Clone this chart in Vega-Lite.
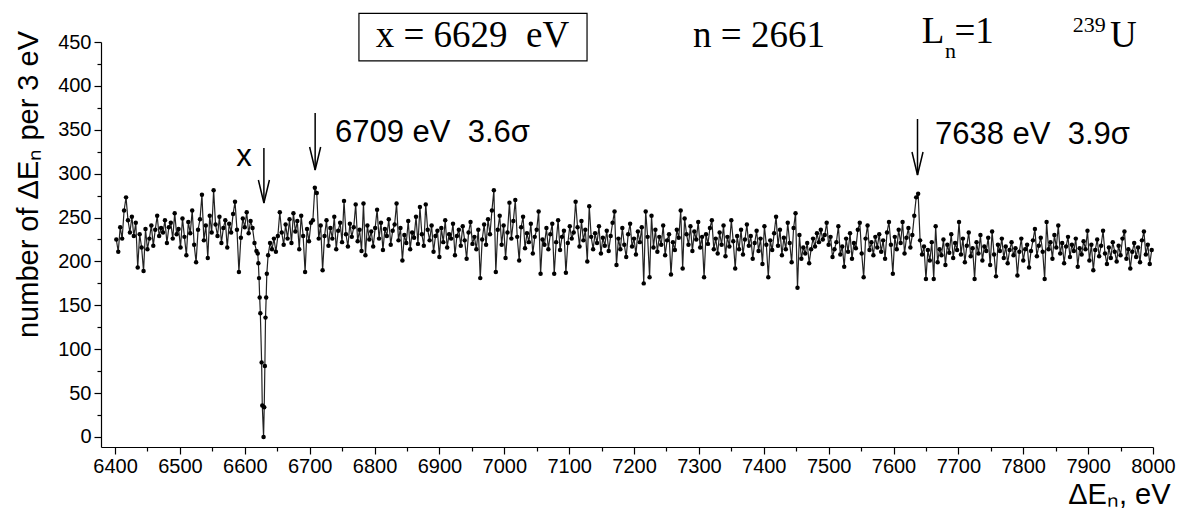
{
"$schema": "https://vega.github.io/schema/vega-lite/v6.json",
"width": 1052, "height": 405,
"autosize": {"type": "none"},
"padding": {"left": 101, "top": 42, "right": 31, "bottom": 75},
"background": "white",
"config": {"view": {"stroke": null}, "axis": {"grid": false, "labelFont": "'Liberation Sans Narrow', 'Liberation Sans'", "titleFont": "Liberation Sans", "domainColor": "black", "tickColor": "black", "labelColor": "black", "titleColor": "black", "domainWidth": 1.2, "tickWidth": 1.2, "labelOverlap": false, "labelFlush": false}},
"resolve": {"axis": {"x": "independent", "y": "independent"}},
"datasets": {"spec": [
{"e":6402,"n":225},{"e":6405,"n":211},{"e":6408,"n":239},{"e":6411,"n":226},{"e":6414,"n":258},{"e":6417,"n":273},{"e":6420,"n":247},{"e":6423,"n":233},{"e":6426,"n":251},{"e":6429,"n":229},{"e":6432,"n":244},{"e":6435,"n":193},{"e":6438,"n":231},{"e":6441,"n":216},{"e":6444,"n":189},{"e":6447,"n":237},{"e":6450,"n":214},
{"e":6453,"n":226},{"e":6456,"n":241},{"e":6459,"n":218},{"e":6462,"n":236},{"e":6465,"n":252},{"e":6468,"n":229},{"e":6471,"n":238},{"e":6474,"n":233},{"e":6477,"n":247},{"e":6480,"n":221},{"e":6483,"n":239},{"e":6486,"n":244},{"e":6489,"n":226},{"e":6492,"n":255},{"e":6495,"n":231},{"e":6498,"n":237},{"e":6501,"n":216},
{"e":6504,"n":249},{"e":6507,"n":228},{"e":6510,"n":207},{"e":6513,"n":245},{"e":6516,"n":232},{"e":6519,"n":258},{"e":6522,"n":219},{"e":6525,"n":199},{"e":6528,"n":236},{"e":6531,"n":248},{"e":6534,"n":276},{"e":6537,"n":224},{"e":6540,"n":241},{"e":6543,"n":204},{"e":6546,"n":252},{"e":6549,"n":233},{"e":6552,"n":281},
{"e":6555,"n":242},{"e":6558,"n":229},{"e":6561,"n":251},{"e":6564,"n":221},{"e":6567,"n":238},{"e":6570,"n":247},{"e":6573,"n":216},{"e":6576,"n":243},{"e":6579,"n":233},{"e":6582,"n":254},{"e":6585,"n":268},{"e":6588,"n":236},{"e":6591,"n":188},{"e":6594,"n":227},{"e":6597,"n":249},{"e":6600,"n":239},{"e":6603,"n":256},
{"e":6606,"n":232},{"e":6609,"n":246},{"e":6612,"n":238},{"e":6615,"n":221},{"e":6618,"n":212},{"e":6620,"n":209},{"e":6621,"n":198},{"e":6622,"n":181},{"e":6623,"n":159},{"e":6624,"n":141},{"e":6626,"n":85},{"e":6627,"n":36},{"e":6629,"n":0},{"e":6630,"n":34},{"e":6631,"n":81},{"e":6632,"n":136},{"e":6633,"n":159},{"e":6634,"n":186},{"e":6636,"n":207},{"e":6639,"n":221},
{"e":6642,"n":214},{"e":6645,"n":226},{"e":6648,"n":211},{"e":6651,"n":229},{"e":6654,"n":256},{"e":6657,"n":233},{"e":6660,"n":219},{"e":6663,"n":242},{"e":6666,"n":226},{"e":6669,"n":248},{"e":6672,"n":221},{"e":6675,"n":255},{"e":6678,"n":234},{"e":6681,"n":246},{"e":6684,"n":214},{"e":6687,"n":252},{"e":6690,"n":229},{"e":6693,"n":188},{"e":6696,"n":237},{"e":6699,"n":223},{"e":6702,"n":244},{"e":6705,"n":247},{"e":6708,"n":284},{"e":6711,"n":278},{"e":6714,"n":226},
{"e":6717,"n":241},{"e":6720,"n":190},{"e":6723,"n":229},{"e":6726,"n":247},{"e":6729,"n":218},{"e":6732,"n":238},{"e":6735,"n":226},{"e":6738,"n":251},{"e":6741,"n":214},{"e":6744,"n":235},{"e":6747,"n":244},{"e":6750,"n":222},{"e":6753,"n":269},{"e":6756,"n":231},{"e":6759,"n":217},{"e":6762,"n":243},{"e":6765,"n":228},{"e":6768,"n":239},{"e":6771,"n":265},{"e":6774,"n":223},{"e":6777,"n":236},{"e":6780,"n":212},{"e":6783,"n":266},{"e":6786,"n":207},{"e":6789,"n":241},{"e":6792,"n":225},{"e":6795,"n":234},{"e":6798,"n":217},
{"e":6801,"n":238},{"e":6804,"n":259},{"e":6807,"n":226},{"e":6810,"n":244},{"e":6813,"n":213},{"e":6816,"n":237},{"e":6819,"n":229},{"e":6822,"n":248},{"e":6825,"n":219},{"e":6828,"n":235},{"e":6831,"n":242},{"e":6834,"n":266},{"e":6837,"n":224},{"e":6840,"n":238},{"e":6843,"n":201},{"e":6846,"n":230},{"e":6849,"n":221},
{"e":6852,"n":246},{"e":6855,"n":214},{"e":6858,"n":233},{"e":6861,"n":227},{"e":6864,"n":251},{"e":6867,"n":220},{"e":6870,"n":262},{"e":6873,"n":231},{"e":6876,"n":218},{"e":6879,"n":265},{"e":6882,"n":236},{"e":6885,"n":224},{"e":6888,"n":241},{"e":6891,"n":211},{"e":6894,"n":229},{"e":6897,"n":235},{"e":6900,"n":205},
{"e":6903,"n":238},{"e":6906,"n":222},{"e":6909,"n":247},{"e":6912,"n":216},{"e":6915,"n":231},{"e":6918,"n":226},{"e":6921,"n":243},{"e":6924,"n":207},{"e":6927,"n":229},{"e":6930,"n":236},{"e":6933,"n":218},{"e":6936,"n":240},{"e":6939,"n":224},{"e":6942,"n":203},{"e":6945,"n":233},{"e":6948,"n":245},{"e":6951,"n":220},
{"e":6954,"n":228},{"e":6957,"n":214},{"e":6960,"n":236},{"e":6963,"n":181},{"e":6966,"n":225},{"e":6969,"n":242},{"e":6972,"n":219},{"e":6975,"n":248},{"e":6978,"n":231},{"e":6981,"n":258},{"e":6984,"n":281},{"e":6987,"n":188},{"e":6990,"n":236},{"e":6993,"n":252},{"e":6996,"n":219},{"e":6999,"n":241},{"e":7002,"n":204},
{"e":7005,"n":233},{"e":7008,"n":267},{"e":7011,"n":226},{"e":7014,"n":246},{"e":7017,"n":270},{"e":7020,"n":228},{"e":7023,"n":201},{"e":7026,"n":239},{"e":7029,"n":251},{"e":7032,"n":215},{"e":7035,"n":232},{"e":7038,"n":222},{"e":7041,"n":243},{"e":7044,"n":209},{"e":7047,"n":228},{"e":7050,"n":236},{"e":7053,"n":257},
{"e":7056,"n":186},{"e":7059,"n":225},{"e":7062,"n":219},{"e":7065,"n":238},{"e":7068,"n":214},{"e":7071,"n":231},{"e":7074,"n":243},{"e":7077,"n":186},{"e":7080,"n":222},{"e":7083,"n":247},{"e":7086,"n":213},{"e":7089,"n":228},{"e":7092,"n":235},{"e":7095,"n":187},{"e":7098,"n":221},{"e":7101,"n":240},{"e":7104,"n":226},
{"e":7107,"n":233},{"e":7110,"n":268},{"e":7113,"n":239},{"e":7116,"n":217},{"e":7119,"n":246},{"e":7122,"n":224},{"e":7125,"n":236},{"e":7128,"n":200},{"e":7131,"n":263},{"e":7134,"n":228},{"e":7137,"n":214},{"e":7140,"n":232},{"e":7143,"n":221},{"e":7146,"n":240},{"e":7149,"n":209},{"e":7152,"n":227},{"e":7155,"n":218},
{"e":7158,"n":235},{"e":7161,"n":212},{"e":7164,"n":229},{"e":7167,"n":244},{"e":7170,"n":257},{"e":7173,"n":196},{"e":7176,"n":226},{"e":7179,"n":214},{"e":7182,"n":238},{"e":7185,"n":219},{"e":7188,"n":205},{"e":7191,"n":231},{"e":7194,"n":243},{"e":7197,"n":217},{"e":7200,"n":226},{"e":7203,"n":208},{"e":7206,"n":234},
{"e":7209,"n":222},{"e":7212,"n":239},{"e":7215,"n":175},{"e":7218,"n":257},{"e":7221,"n":228},{"e":7224,"n":182},{"e":7227,"n":252},{"e":7230,"n":216},{"e":7233,"n":236},{"e":7236,"n":211},{"e":7239,"n":228},{"e":7242,"n":219},{"e":7245,"n":241},{"e":7248,"n":207},{"e":7251,"n":224},{"e":7254,"n":231},{"e":7257,"n":185},
{"e":7260,"n":222},{"e":7263,"n":213},{"e":7266,"n":236},{"e":7269,"n":227},{"e":7272,"n":258},{"e":7275,"n":192},{"e":7278,"n":249},{"e":7281,"n":231},{"e":7284,"n":219},{"e":7287,"n":240},{"e":7290,"n":212},{"e":7293,"n":234},{"e":7296,"n":225},{"e":7299,"n":245},{"e":7302,"n":216},{"e":7305,"n":228},{"e":7308,"n":182},
{"e":7311,"n":231},{"e":7314,"n":220},{"e":7317,"n":238},{"e":7320,"n":247},{"e":7323,"n":214},{"e":7326,"n":226},{"e":7329,"n":209},{"e":7332,"n":233},{"e":7335,"n":219},{"e":7338,"n":241},{"e":7341,"n":206},{"e":7344,"n":228},{"e":7347,"n":217},{"e":7350,"n":247},{"e":7353,"n":223},{"e":7356,"n":192},{"e":7359,"n":229},
{"e":7362,"n":214},{"e":7365,"n":236},{"e":7368,"n":208},{"e":7371,"n":225},{"e":7374,"n":242},{"e":7377,"n":218},{"e":7380,"n":229},{"e":7383,"n":203},{"e":7386,"n":221},{"e":7389,"n":235},{"e":7392,"n":212},{"e":7395,"n":226},{"e":7398,"n":197},{"e":7401,"n":240},{"e":7404,"n":219},{"e":7407,"n":182},{"e":7410,"n":224},
{"e":7413,"n":213},{"e":7416,"n":232},{"e":7419,"n":251},{"e":7422,"n":218},{"e":7425,"n":236},{"e":7428,"n":207},{"e":7431,"n":227},{"e":7434,"n":214},{"e":7437,"n":244},{"e":7440,"n":221},{"e":7443,"n":199},{"e":7446,"n":238},{"e":7449,"n":255},{"e":7452,"n":170},{"e":7455,"n":230},{"e":7458,"n":203},{"e":7461,"n":216},
{"e":7464,"n":209},{"e":7467,"n":221},{"e":7470,"n":198},{"e":7473,"n":214},{"e":7476,"n":226},{"e":7479,"n":217},{"e":7482,"n":232},{"e":7485,"n":222},{"e":7488,"n":236},{"e":7491,"n":225},{"e":7494,"n":230},{"e":7497,"n":244},{"e":7500,"n":219},{"e":7503,"n":228},{"e":7506,"n":205},{"e":7509,"n":214},{"e":7512,"n":222},
{"e":7515,"n":240},{"e":7518,"n":208},{"e":7521,"n":217},{"e":7524,"n":194},{"e":7527,"n":226},{"e":7530,"n":211},{"e":7533,"n":232},{"e":7536,"n":203},{"e":7539,"n":221},{"e":7542,"n":215},{"e":7545,"n":236},{"e":7548,"n":244},{"e":7551,"n":209},{"e":7554,"n":182},{"e":7557,"n":226},{"e":7560,"n":241},{"e":7563,"n":213},
{"e":7566,"n":222},{"e":7569,"n":207},{"e":7572,"n":228},{"e":7575,"n":216},{"e":7578,"n":231},{"e":7581,"n":211},{"e":7584,"n":224},{"e":7587,"n":203},{"e":7590,"n":233},{"e":7593,"n":245},{"e":7596,"n":219},{"e":7599,"n":186},{"e":7602,"n":228},{"e":7605,"n":214},{"e":7608,"n":236},{"e":7611,"n":221},{"e":7614,"n":245},
{"e":7617,"n":209},{"e":7620,"n":227},{"e":7623,"n":238},{"e":7626,"n":216},{"e":7629,"n":230},{"e":7632,"n":252},{"e":7635,"n":273},{"e":7638,"n":277},{"e":7641,"n":224},{"e":7644,"n":208},{"e":7647,"n":217},{"e":7650,"n":180},{"e":7653,"n":213},{"e":7656,"n":201},{"e":7659,"n":222},{"e":7662,"n":180},{"e":7665,"n":240},
{"e":7668,"n":199},{"e":7671,"n":214},{"e":7674,"n":207},{"e":7677,"n":225},{"e":7680,"n":196},{"e":7683,"n":219},{"e":7686,"n":210},{"e":7689,"n":231},{"e":7692,"n":204},{"e":7695,"n":221},{"e":7698,"n":213},{"e":7701,"n":245},{"e":7704,"n":208},{"e":7707,"n":226},{"e":7710,"n":199},{"e":7713,"n":218},{"e":7716,"n":233},
{"e":7719,"n":206},{"e":7722,"n":215},{"e":7725,"n":180},{"e":7728,"n":222},{"e":7731,"n":209},{"e":7734,"n":230},{"e":7737,"n":201},{"e":7740,"n":217},{"e":7743,"n":212},{"e":7746,"n":227},{"e":7749,"n":196},{"e":7752,"n":234},{"e":7755,"n":208},{"e":7758,"n":183},{"e":7761,"n":219},{"e":7764,"n":212},{"e":7767,"n":226},
{"e":7770,"n":204},{"e":7773,"n":217},{"e":7776,"n":198},{"e":7779,"n":213},{"e":7782,"n":222},{"e":7785,"n":207},{"e":7788,"n":215},{"e":7791,"n":184},{"e":7794,"n":211},{"e":7797,"n":226},{"e":7800,"n":201},{"e":7803,"n":214},{"e":7806,"n":219},{"e":7809,"n":193},{"e":7812,"n":212},{"e":7815,"n":224},{"e":7818,"n":237},
{"e":7821,"n":206},{"e":7824,"n":218},{"e":7827,"n":227},{"e":7830,"n":211},{"e":7833,"n":180},{"e":7836,"n":245},{"e":7839,"n":214},{"e":7842,"n":222},{"e":7845,"n":203},{"e":7848,"n":230},{"e":7851,"n":216},{"e":7854,"n":241},{"e":7857,"n":209},{"e":7860,"n":221},{"e":7863,"n":198},{"e":7866,"n":217},{"e":7869,"n":228},
{"e":7872,"n":205},{"e":7875,"n":219},{"e":7878,"n":212},{"e":7881,"n":226},{"e":7884,"n":194},{"e":7887,"n":215},{"e":7890,"n":208},{"e":7893,"n":223},{"e":7896,"n":214},{"e":7899,"n":235},{"e":7902,"n":201},{"e":7905,"n":219},{"e":7908,"n":190},{"e":7911,"n":213},{"e":7914,"n":225},{"e":7917,"n":206},{"e":7920,"n":218},
{"e":7923,"n":235},{"e":7926,"n":209},{"e":7929,"n":197},{"e":7932,"n":216},{"e":7935,"n":204},{"e":7938,"n":222},{"e":7941,"n":211},{"e":7944,"n":200},{"e":7947,"n":218},{"e":7950,"n":207},{"e":7953,"n":226},{"e":7956,"n":234},{"e":7959,"n":203},{"e":7962,"n":214},{"e":7965,"n":192},{"e":7968,"n":211},{"e":7971,"n":221},
{"e":7974,"n":205},{"e":7977,"n":216},{"e":7980,"n":199},{"e":7983,"n":224},{"e":7986,"n":234},{"e":7989,"n":208},{"e":7992,"n":219},{"e":7995,"n":197},{"e":7998,"n":213}
]},
"layer": [
{"data": {"name": "spec"},
 "mark": {"type": "line", "stroke": "#222222", "strokeWidth": 1.2},
 "encoding": {
  "x": {"field": "e", "type": "quantitative", "scale": {"domain": [6378.4, 8000], "nice": false, "zero": false},
   "axis": {"orient": "bottom", "values": [6400,6500,6600,6700,6800,6900,7000,7100,7200,7300,7400,7500,7600,7700,7800,7900,8000], "format": "d", "labelFontSize": 20, "tickSize": 7, "labelPadding": 2,
    "title": "ΔEₙ, eV", "titleFontSize": 29, "titleFontWeight": "normal", "titleAnchor": "end", "titleAlign": "right", "titleX": 1069, "titleY": 56, "titleBaseline": "alphabetic"}},
  "y": {"field": "n", "type": "quantitative", "scale": {"domain": [-11.4, 450], "nice": false, "zero": false},
   "axis": {"orient": "left", "values": [0,50,100,150,200,250,300,350,400,450], "labelFontSize": 20, "tickSize": 7, "labelPadding": 3,
    "title": "number of ΔEₙ per 3 eV", "titleFontSize": 29, "titleFontWeight": "normal", "titleAngle": -90, "titleX": -64, "titleY": 142, "titleAlign": "center", "titleBaseline": "alphabetic"}}
 }},
{"data": {"values": [{"e": 6400, "n": 0}]},
 "mark": {"type": "point", "opacity": 0},
 "encoding": {
  "x": {"field": "e", "type": "quantitative", "scale": {"domain": [6378.4, 8000], "nice": false, "zero": false},
   "axis": {"orient": "bottom", "values": [6450,6550,6650,6750,6850,6950,7050,7150,7250,7350,7450,7550,7650,7750,7850,7950], "labels": false, "domain": false, "tickSize": 4, "title": null}},
  "y": {"field": "n", "type": "quantitative", "scale": {"domain": [-11.4, 450], "nice": false, "zero": false},
   "axis": {"orient": "left", "values": [25,75,125,175,225,275,325,375,425], "labels": false, "domain": false, "tickSize": 4, "title": null}}
 }},
{"data": {"name": "spec"},
 "mark": {"type": "point", "filled": true, "color": "black", "size": 20, "opacity": 1},
 "encoding": {
  "x": {"field": "e", "type": "quantitative", "axis": null},
  "y": {"field": "n", "type": "quantitative", "axis": null}
 }},
{"data": {"values": [{"e": 6776, "e2": 7127.6, "n": 482.7, "n2": 428.4}]},
 "mark": {"type": "rect", "fill": "white", "fillOpacity": 0, "stroke": "black", "strokeWidth": 1.2},
 "encoding": {
  "x": {"field": "e", "type": "quantitative", "axis": null}, "x2": {"field": "e2"},
  "y": {"field": "n", "type": "quantitative", "axis": null}, "y2": {"field": "n2"}
 }},
{"data": {"values": [{"e": 6951, "n": 444.6, "t": "x = 6629\u00a0\u00a0eV"}, {"e": 7392.7, "n": 444.6, "t": "n = 2661"}]},
 "mark": {"type": "text", "font": "Liberation Serif", "fontSize": 37, "align": "center", "baseline": "alphabetic", "color": "black"},
 "encoding": {"x": {"field": "e", "type": "quantitative", "axis": null}, "y": {"field": "n", "type": "quantitative", "axis": null}, "text": {"field": "t"}}},
{"data": {"values": [{"e": 7643.6, "n": 448.5, "t": "L"}, {"e": 7694, "n": 448.5, "t": "=1"}, {"e": 7933.8, "n": 444.6, "t": "U"}]},
 "mark": {"type": "text", "font": "Liberation Serif", "fontSize": 37, "align": "left", "baseline": "alphabetic", "color": "black"},
 "encoding": {"x": {"field": "e", "type": "quantitative", "axis": null}, "y": {"field": "n", "type": "quantitative", "axis": null}, "text": {"field": "t"}}},
{"data": {"values": [{"e": 7679.4, "n": 431.4, "t": "n"}]},
 "mark": {"type": "text", "font": "Liberation Serif", "fontSize": 22, "align": "left", "baseline": "alphabetic", "color": "black"},
 "encoding": {"x": {"field": "e", "type": "quantitative", "axis": null}, "y": {"field": "n", "type": "quantitative", "axis": null}, "text": {"field": "t"}}},
{"data": {"values": [{"e": 7876.3, "n": 461.7, "t": "239"}]},
 "mark": {"type": "text", "font": "Liberation Serif", "fontSize": 22, "align": "left", "baseline": "alphabetic", "color": "black"},
 "encoding": {"x": {"field": "e", "type": "quantitative", "axis": null}, "y": {"field": "n", "type": "quantitative", "axis": null}, "text": {"field": "t"}}},
{"data": {"values": [{"e": 6739.1, "n": 336.1, "t": "6709 eV\u00a0\u00a03.6σ"}, {"e": 7664, "n": 333.8, "t": "7638 eV\u00a0\u00a03.9σ"}]},
 "mark": {"type": "text", "font": "Liberation Sans", "fontSize": 31, "align": "left", "baseline": "alphabetic", "color": "black"},
 "encoding": {"x": {"field": "e", "type": "quantitative", "axis": null}, "y": {"field": "n", "type": "quantitative", "axis": null}, "text": {"field": "t"}}},
{"data": {"values": [{"e": 6598.8, "n": 308.7, "t": "x"}]},
 "mark": {"type": "text", "font": "Liberation Sans", "fontSize": 31, "align": "center", "baseline": "alphabetic", "color": "black"},
 "encoding": {"x": {"field": "e", "type": "quantitative", "axis": null}, "y": {"field": "n", "type": "quantitative", "axis": null}, "text": {"field": "t"}}},
{"data": {"values": [{"e": 6629.5, "n": 329.2, "n2": 266.6}, {"e": 6708.5, "n": 369, "n2": 304.2}, {"e": 7637, "n": 362.3, "n2": 298.5}]},
 "mark": {"type": "rule", "color": "black", "strokeWidth": 1.5},
 "encoding": {"x": {"field": "e", "type": "quantitative", "axis": null}, "y": {"field": "n", "type": "quantitative", "axis": null}, "y2": {"field": "n2"}}},
{"data": {"values": [{"e": 6629.5, "n": 266.6}, {"e": 6708.5, "n": 304.2}, {"e": 7637, "n": 298.5}]},
 "mark": {"type": "point", "shape": "M-0.24,-1L0,0L0.24,-1", "size": 2116, "filled": false, "stroke": "black", "strokeWidth": 1.5, "opacity": 1},
 "encoding": {"x": {"field": "e", "type": "quantitative", "axis": null}, "y": {"field": "n", "type": "quantitative", "axis": null}}}
]
}
